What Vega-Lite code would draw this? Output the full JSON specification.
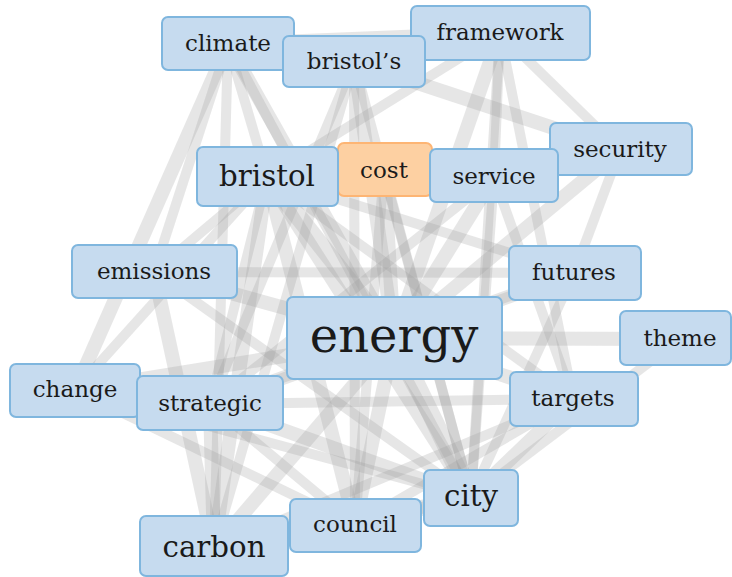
{
  "$schema": "https://vega.github.io/schema/vega-lite/v6.json",
  "width": 732,
  "height": 577,
  "autosize": {"type": "fit", "contains": "padding"},
  "padding": 0,
  "background": "white",
  "config": {"view": {"stroke": null}},
  "datasets": {
    "nodes": [
      {"id": "climate", "label": "climate", "x1": 162, "x2": 294, "y1": 17, "y2": 70, "cx": 228, "cy": 44, "freq": 2, "group": "other"},
      {"id": "framework", "label": "framework", "x1": 411, "x2": 590, "y1": 6, "y2": 60, "cx": 500, "cy": 33, "freq": 2, "group": "other"},
      {"id": "bristols", "label": "bristol’s", "x1": 283, "x2": 425, "y1": 36, "y2": 87, "cx": 354, "cy": 62, "freq": 2, "group": "other"},
      {"id": "cost", "label": "cost", "x1": 338, "x2": 432, "y1": 143, "y2": 196, "cx": 384, "cy": 171, "freq": 2, "group": "selected"},
      {"id": "bristol", "label": "bristol", "x1": 197, "x2": 338, "y1": 147, "y2": 206, "cx": 267, "cy": 177, "freq": 4, "group": "other"},
      {"id": "security", "label": "security", "x1": 550, "x2": 692, "y1": 123, "y2": 175, "cx": 620, "cy": 150, "freq": 2, "group": "other"},
      {"id": "service", "label": "service", "x1": 430, "x2": 558, "y1": 149, "y2": 202, "cx": 494, "cy": 177, "freq": 2, "group": "other"},
      {"id": "emissions", "label": "emissions", "x1": 72, "x2": 237, "y1": 245, "y2": 298, "cx": 154, "cy": 272, "freq": 2, "group": "other"},
      {"id": "futures", "label": "futures", "x1": 509, "x2": 641, "y1": 246, "y2": 300, "cx": 574, "cy": 273, "freq": 2, "group": "other"},
      {"id": "energy", "label": "energy", "x1": 287, "x2": 502, "y1": 297, "y2": 379, "cx": 394, "cy": 338, "freq": 10, "group": "other"},
      {"id": "theme", "label": "theme", "x1": 620, "x2": 731, "y1": 311, "y2": 365, "cx": 680, "cy": 339, "freq": 2, "group": "other"},
      {"id": "change", "label": "change", "x1": 10, "x2": 140, "y1": 364, "y2": 417, "cx": 75, "cy": 390, "freq": 2, "group": "other"},
      {"id": "strategic", "label": "strategic", "x1": 137, "x2": 283, "y1": 376, "y2": 430, "cx": 210, "cy": 404, "freq": 2, "group": "other"},
      {"id": "targets", "label": "targets", "x1": 510, "x2": 638, "y1": 372, "y2": 426, "cx": 573, "cy": 399, "freq": 2, "group": "other"},
      {"id": "carbon", "label": "carbon", "x1": 140, "x2": 288, "y1": 516, "y2": 576, "cx": 214, "cy": 548, "freq": 4, "group": "other"},
      {"id": "council", "label": "council", "x1": 290, "x2": 421, "y1": 499, "y2": 552, "cx": 355, "cy": 525, "freq": 2, "group": "other"},
      {"id": "city", "label": "city", "x1": 424, "x2": 518, "y1": 470, "y2": 526, "cx": 471, "cy": 497, "freq": 4, "group": "other"}
    ],
    "edges": [
      {"s": "climate", "t": "framework", "w": 2},
      {"s": "climate", "t": "change", "w": 2},
      {"s": "climate", "t": "carbon", "w": 1},
      {"s": "climate", "t": "emissions", "w": 1},
      {"s": "climate", "t": "energy", "w": 2},
      {"s": "climate", "t": "city", "w": 1},
      {"s": "climate", "t": "bristol", "w": 1},
      {"s": "bristols", "t": "energy", "w": 2},
      {"s": "bristols", "t": "security", "w": 2},
      {"s": "bristols", "t": "city", "w": 1},
      {"s": "bristols", "t": "strategic", "w": 1},
      {"s": "bristols", "t": "council", "w": 1},
      {"s": "bristols", "t": "carbon", "w": 1},
      {"s": "framework", "t": "energy", "w": 2},
      {"s": "framework", "t": "city", "w": 1},
      {"s": "framework", "t": "security", "w": 1},
      {"s": "framework", "t": "service", "w": 1},
      {"s": "framework", "t": "targets", "w": 1},
      {"s": "framework", "t": "bristol", "w": 1},
      {"s": "security", "t": "energy", "w": 2},
      {"s": "security", "t": "service", "w": 1},
      {"s": "security", "t": "futures", "w": 1},
      {"s": "bristol", "t": "energy", "w": 3},
      {"s": "bristol", "t": "city", "w": 2},
      {"s": "bristol", "t": "council", "w": 2},
      {"s": "bristol", "t": "carbon", "w": 2},
      {"s": "bristol", "t": "change", "w": 1},
      {"s": "bristol", "t": "strategic", "w": 1},
      {"s": "bristol", "t": "futures", "w": 1},
      {"s": "bristol", "t": "targets", "w": 1},
      {"s": "bristol", "t": "emissions", "w": 1},
      {"s": "cost", "t": "energy", "w": 2},
      {"s": "cost", "t": "city", "w": 1},
      {"s": "cost", "t": "council", "w": 1},
      {"s": "service", "t": "energy", "w": 2},
      {"s": "service", "t": "city", "w": 1},
      {"s": "service", "t": "strategic", "w": 1},
      {"s": "service", "t": "targets", "w": 1},
      {"s": "emissions", "t": "energy", "w": 2},
      {"s": "emissions", "t": "carbon", "w": 2},
      {"s": "emissions", "t": "city", "w": 1},
      {"s": "emissions", "t": "futures", "w": 1},
      {"s": "futures", "t": "energy", "w": 2},
      {"s": "futures", "t": "city", "w": 1},
      {"s": "futures", "t": "strategic", "w": 1},
      {"s": "energy", "t": "theme", "w": 2},
      {"s": "energy", "t": "change", "w": 2},
      {"s": "energy", "t": "strategic", "w": 2},
      {"s": "energy", "t": "targets", "w": 2},
      {"s": "energy", "t": "city", "w": 3},
      {"s": "energy", "t": "council", "w": 2},
      {"s": "energy", "t": "carbon", "w": 2},
      {"s": "theme", "t": "city", "w": 1},
      {"s": "change", "t": "city", "w": 1},
      {"s": "change", "t": "council", "w": 1},
      {"s": "strategic", "t": "city", "w": 2},
      {"s": "strategic", "t": "carbon", "w": 2},
      {"s": "strategic", "t": "council", "w": 1},
      {"s": "strategic", "t": "targets", "w": 1},
      {"s": "targets", "t": "city", "w": 2},
      {"s": "targets", "t": "council", "w": 1},
      {"s": "targets", "t": "carbon", "w": 1},
      {"s": "city", "t": "council", "w": 2},
      {"s": "city", "t": "carbon", "w": 2},
      {"s": "council", "t": "carbon", "w": 1}
    ]
  },
  "layer": [
    {
      "data": {"name": "edges"},
      "transform": [
        {"lookup": "s", "from": {"data": {"name": "nodes"}, "key": "id", "fields": ["cx", "cy"]}, "as": ["sx", "sy"]},
        {"lookup": "t", "from": {"data": {"name": "nodes"}, "key": "id", "fields": ["cx", "cy"]}, "as": ["tx", "ty"]}
      ],
      "mark": {"type": "rule", "color": "#9a9a9a", "opacity": 0.25, "strokeCap": "butt", "clip": true},
      "encoding": {
        "x": {"field": "sx", "type": "quantitative", "scale": {"domain": [0, 732], "nice": false, "zero": false}, "axis": null},
        "y": {"field": "sy", "type": "quantitative", "scale": {"domain": [0, 577], "nice": false, "zero": false, "reverse": true}, "axis": null},
        "x2": {"field": "tx"},
        "y2": {"field": "ty"},
        "strokeWidth": {"field": "w", "type": "quantitative", "scale": {"domain": [1, 3], "range": [10, 18]}, "legend": null}
      }
    },
    {
      "data": {"name": "nodes"},
      "mark": {"type": "rect", "cornerRadius": 6, "strokeWidth": 2, "clip": true},
      "encoding": {
        "x": {"field": "x1", "type": "quantitative"},
        "x2": {"field": "x2"},
        "y": {"field": "y1", "type": "quantitative"},
        "y2": {"field": "y2"},
        "fill": {"field": "group", "type": "nominal", "scale": {"domain": ["other", "selected"], "range": ["#c6dbef", "#fdd0a2"]}, "legend": null},
        "stroke": {"field": "group", "type": "nominal", "scale": {"domain": ["other", "selected"], "range": ["#7fb6de", "#fdb574"]}, "legend": null}
      }
    },
    {
      "data": {"name": "nodes"},
      "mark": {"type": "text", "font": "DejaVu Serif", "baseline": "middle", "align": "center", "color": "#1a1a1a", "clip": true},
      "encoding": {
        "x": {"field": "cx", "type": "quantitative"},
        "y": {"field": "cy", "type": "quantitative"},
        "text": {"field": "label"},
        "size": {"field": "freq", "type": "quantitative", "scale": {"domain": [2, 10], "range": [23, 48]}, "legend": null}
      }
    }
  ]
}
